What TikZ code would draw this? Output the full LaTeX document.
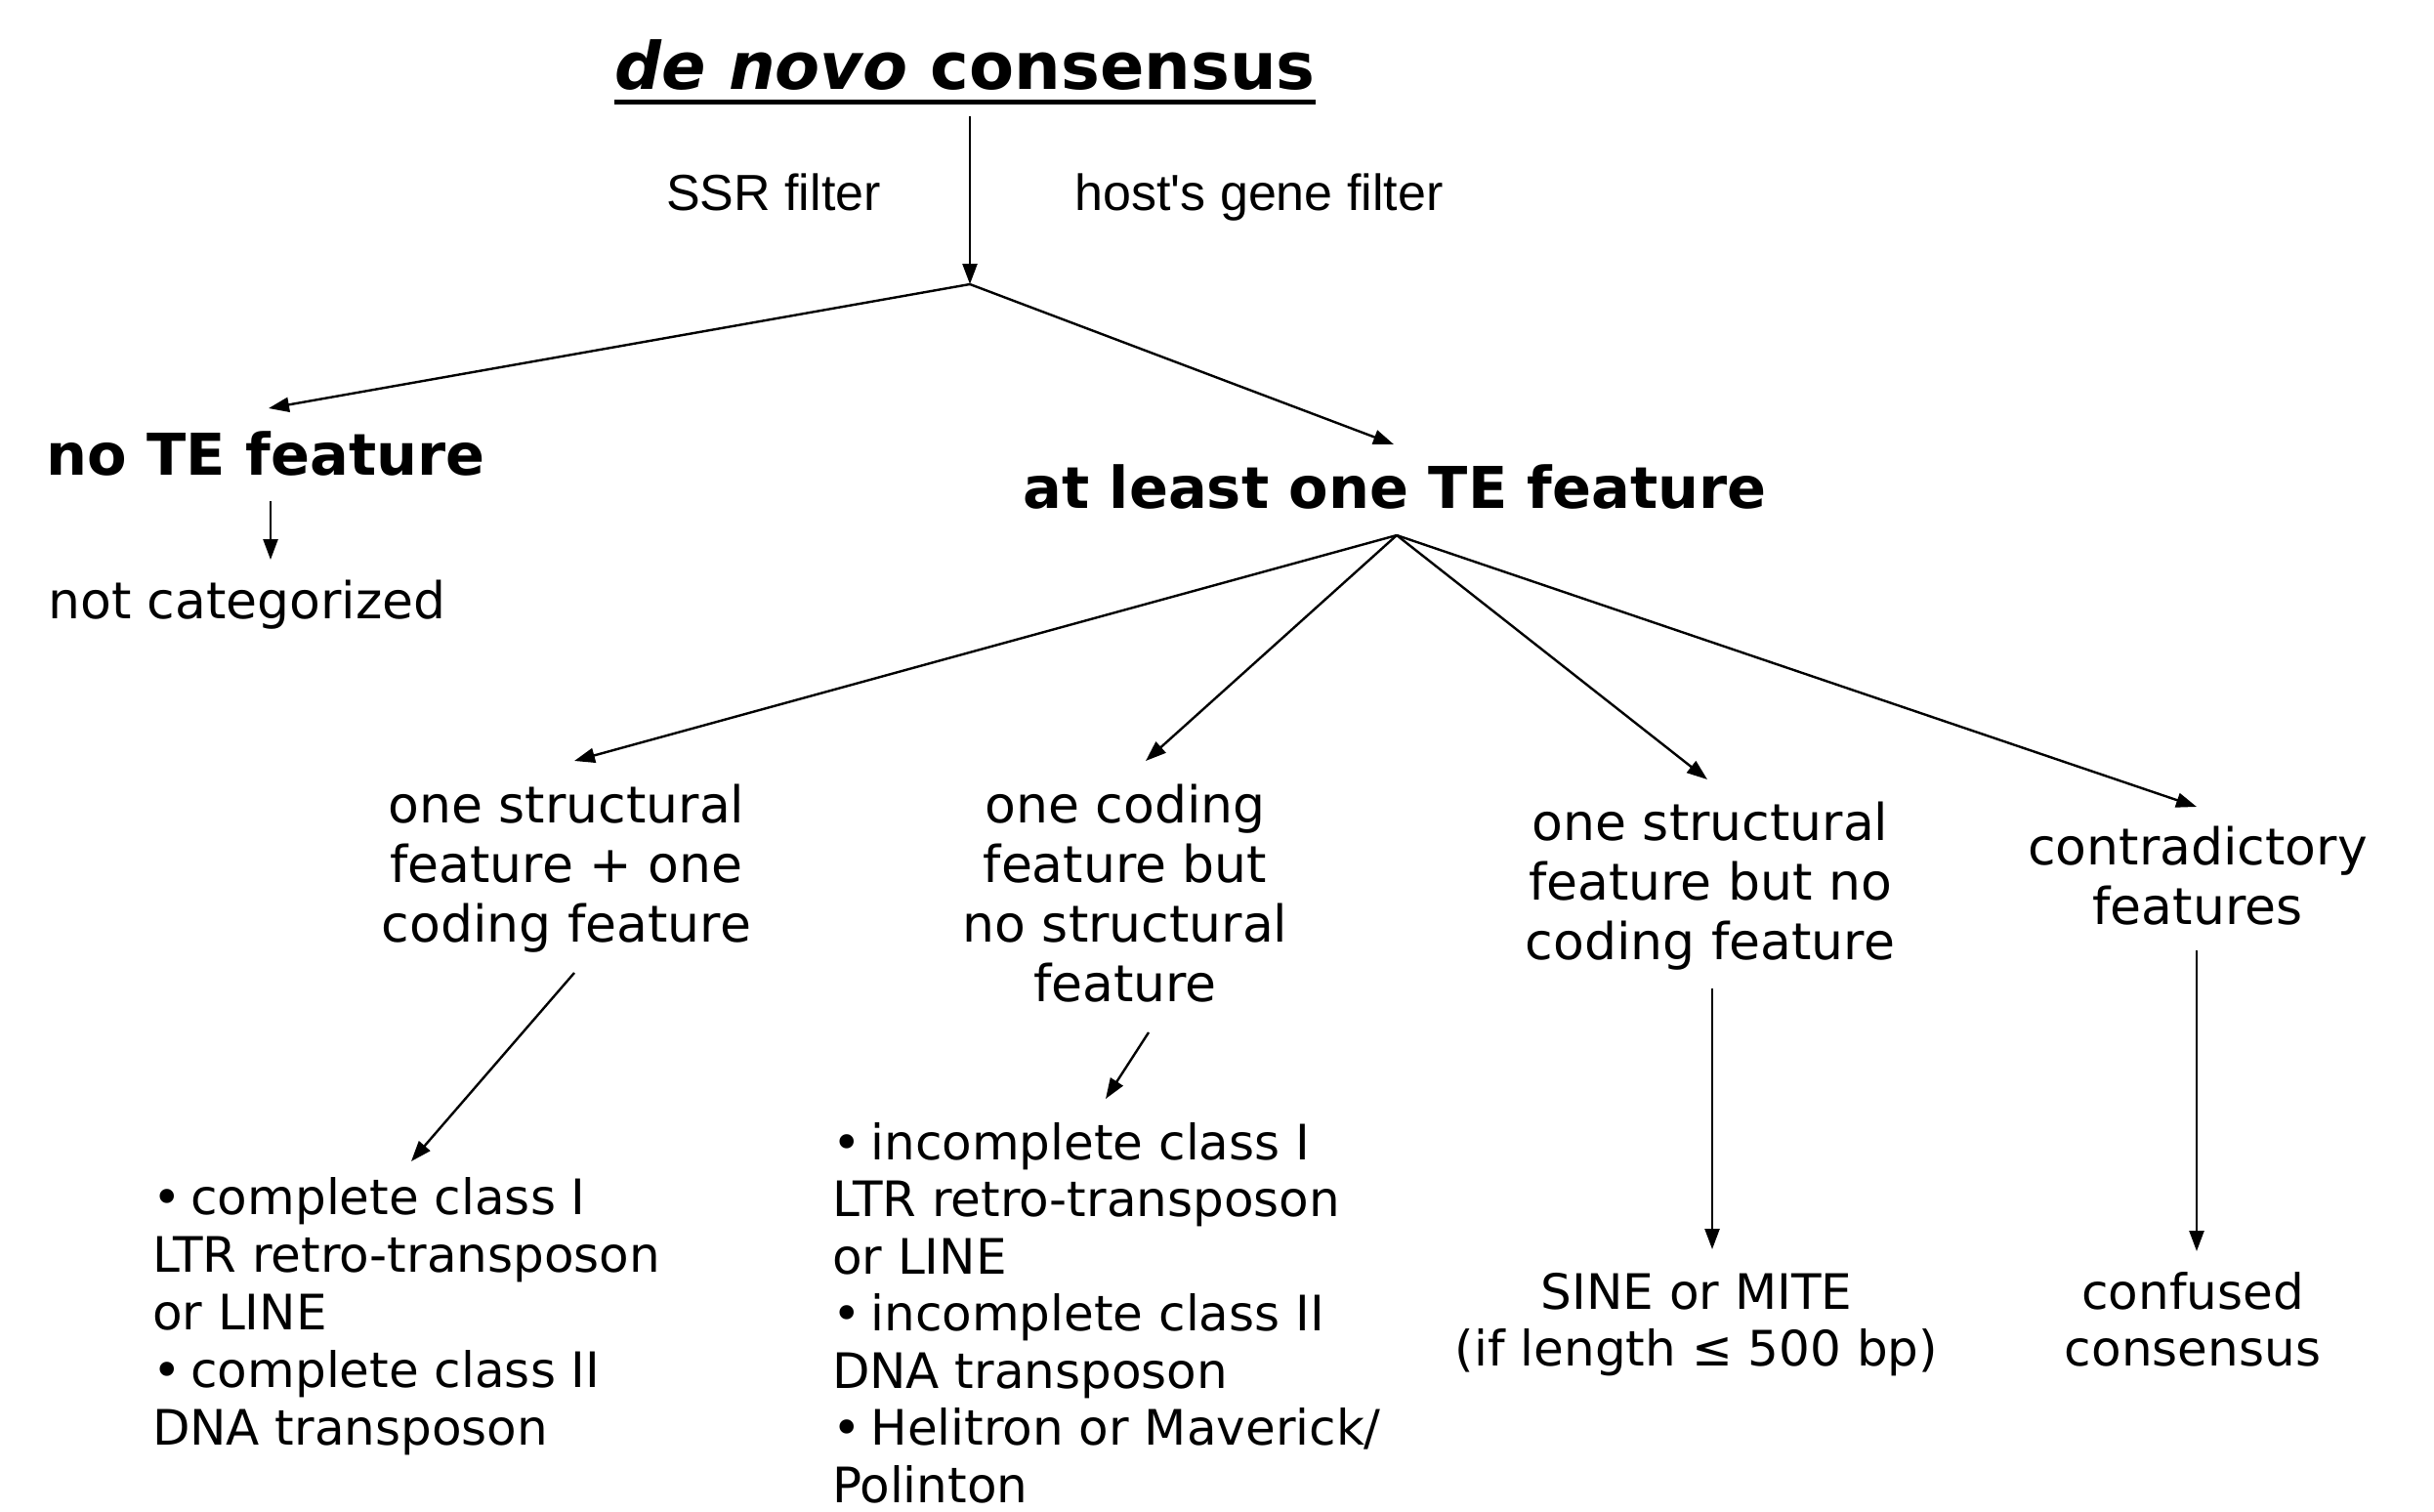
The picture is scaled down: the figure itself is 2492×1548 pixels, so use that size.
\documentclass[tikz,border=0pt]{standalone}
\usepackage{fontspec}
\setmainfont{DejaVu Sans}
\newfontfamily\arialf{Liberation Sans}
\usetikzlibrary{arrows.meta,calc}
\newcommand{\bul}{•\hspace{10bp}}
\begin{document}
\begin{tikzpicture}[x=1bp,y=-1bp,
  lbl/.style={inner sep=0pt, outer sep=0pt, align=center, anchor=base,
    font=\fontsize{52bp}{61bp}\selectfont},
  head/.style={inner sep=0pt, outer sep=0pt, anchor=base,
    font=\fontsize{59bp}{70bp}\selectfont\bfseries},
  filt/.style={inner sep=0pt, outer sep=0pt, anchor=base,
    font=\arialf\fontsize{52bp}{60bp}\selectfont},
  leaf/.style={inner sep=0pt, outer sep=0pt, align=left, anchor=base west,
    font=\fontsize{50bp}{59bp}\selectfont},
  cleaf/.style={inner sep=0pt, outer sep=0pt, align=center, anchor=base,
    font=\fontsize{50bp}{58bp}\selectfont},
  arr/.style={line width=2.4bp, -{Triangle[length=21bp,width=15bp]}},
  ln/.style={line width=2.4bp}]
\useasboundingbox[fill=white] (0,0) rectangle (2492,1548);

% title
\node[inner sep=0pt, anchor=base, font=\fontsize{67bp}{80bp}\selectfont\bfseries]
  (title) at (988,92) {{\itshape de novo} consensus};
\fill ($(title.base west)+(0,10)$) rectangle ($(title.base east)+(0,15)$);

\node[filt] (ssr) at (792,215) {SSR filter};
\node[filt] (host) at (1289,215) {host's gene filter};

\coordinate (top) at (993,119);
\coordinate (split) at (993,291);
\coordinate (noTEtip) at (275,418);
\coordinate (atTip) at (1427,455);
\draw[arr] (top) -- (split);
\draw[arr] (split) -- (noTEtip);
\draw[arr] (split) -- (atTip);

\node[head] (noTE) at (272,486) {no TE feature};
\node[head] (atleast) at (1428,520) {at least one TE feature};

\coordinate (ncS) at (277,513);
\coordinate (ncE) at (277,573);
\draw[arr] (ncS) -- (ncE);
\node[lbl] (notcat) at (253,633) {not categorized};

% fan
\coordinate (fan) at (1430,548);
\coordinate (fA) at (588,779);
\coordinate (fB) at (1173,779);
\coordinate (fC) at (1748,798);
\coordinate (fD) at (2249,826);
\draw[arr] (fan) -- (fA);
\draw[arr] (fan) -- (fB);
\draw[arr] (fan) -- (fC);
\draw[arr] (fan) -- (fD);

% multi-line nodes: base anchor is the baseline of the last line
\node[lbl] (A) at (580,964) {one structural\\feature + one\\coding feature};
\node[lbl] (B) at (1152,1025) {one coding\\feature but\\no structural\\feature};
\node[lbl] (C) at (1751,982) {one structural\\feature but no\\coding feature};
\node[lbl] (D) at (2250,946) {contradictory\\features};

\coordinate (aS) at (588,996);   \coordinate (aE) at (421,1189);
\coordinate (bS) at (1176,1057); \coordinate (bE) at (1132,1125);
\coordinate (cS) at (1753,1012); \coordinate (cE) at (1753,1279);
\coordinate (dS) at (2249,973);  \coordinate (dE) at (2249,1281);
\draw[arr] (aS) -- (aE);
\draw[arr] (bS) -- (bE);
\draw[arr] (cS) -- (cE);
\draw[arr] (dS) -- (dE);

\node[leaf] (LA) at (156,1479) {\bul complete class I\\LTR retro-transposon\\or LINE\\\bul complete class II\\DNA transposon};
\node[leaf, font=\fontsize{50bp}{58.5bp}\selectfont] (LB) at (852,1538) {\bul incomplete class I\\LTR retro-transposon\\or LINE\\\bul incomplete class II\\DNA transposon\\\bul Helitron or Maverick/\\Polinton};
\node[cleaf] (LC) at (1737,1398) {SINE or MITE\\(if length ≤ 500 bp)};
\node[cleaf] (LD) at (2245,1398) {confused\\consensus};
\end{tikzpicture}
\end{document}
